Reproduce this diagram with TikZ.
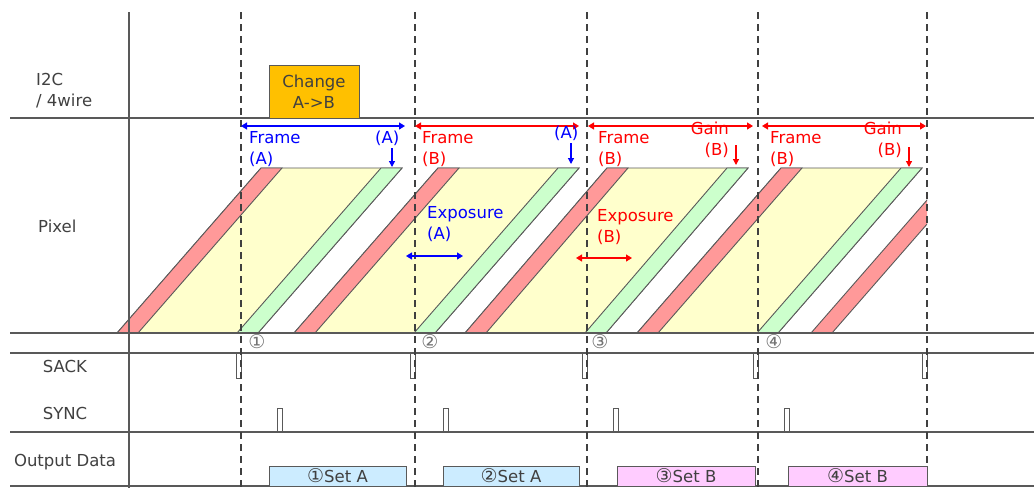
\documentclass[tikz,border=0pt]{standalone}
\usepackage{fontspec}
\setmainfont{DejaVu Sans}
\usepackage{tikz}
\usetikzlibrary{arrows.meta, positioning}
\definecolor{tdgray}{HTML}{595959}
\definecolor{tdtext}{HTML}{404040}
\definecolor{expyel}{HTML}{FFFFCC}
\definecolor{rstred}{HTML}{FF9999}
\definecolor{rdgrn}{HTML}{CCFFCC}
\definecolor{chgorg}{HTML}{FFC000}
\definecolor{setblue}{HTML}{CCECFF}
\definecolor{setpink}{HTML}{FFCCFF}
\definecolor{txblue}{HTML}{0000FF}
\definecolor{txred}{HTML}{FF0000}
\newcommand{\cdig}[1]{{\fontsize{19}{19}\selectfont #1}}
\tikzset{
  rowlbl/.style={font=\fontsize{16.5}{21}\selectfont,text=tdtext,inner sep=0pt,align=left},
  dimtxt/.style={font=\fontsize{16.5}{21}\selectfont,inner sep=0pt,align=left},
  gridline/.style={draw=tdgray,line width=1.3pt},
  vsyncline/.style={draw=black!75,line width=1.6pt,dash pattern=on 7pt off 5pt},
  expband/.style={fill=expyel,draw=tdgray,line width=0.9pt},
  rstband/.style={fill=rstred,draw=tdgray,line width=0.9pt},
  rdband/.style={fill=rdgrn,draw=tdgray,line width=0.9pt},
  chgbox/.style={fill=chgorg,draw=tdgray,line width=1pt,minimum width=90pt,minimum height=53pt,
    inner sep=0pt,align=center,font=\fontsize{16.5}{21}\selectfont,text=tdtext},
  setbox/.style={draw=tdgray,line width=1pt,minimum height=20pt,inner sep=0pt,
    font=\fontsize{16.5}{20}\selectfont,text=tdtext},
  cnum/.style={font=\fontsize{19}{19}\selectfont,text=black!55,inner sep=0pt},
  pulseline/.style={draw=tdgray,line width=0.9pt},
  dimarr/.style={<->,>={Triangle[length=6pt,width=7pt]},line width=1.2pt},
  downarr/.style={->,>={Triangle[length=6pt,width=6pt]},line width=1.2pt},
}

\begin{document}
\begin{tikzpicture}[x=1pt,y=-1pt]
  \useasboundingbox (0,0) rectangle (1034,488);
  % readout bands
  \foreach \b/\t in {117/261,294/438,465/607,637/781}{
    \filldraw[expband] (\b,333) -- (\t,168) -- ({\t+141},168) -- ({\b+141},333) -- cycle;
    \filldraw[rstband] (\b,333) -- (\t,168) -- ({\t+21},168) -- ({\b+21},333) -- cycle;
    \filldraw[rdband] ({\b+120},333) -- ({\t+120},168) -- ({\t+141},168) -- ({\b+141},333) -- cycle;
  }
  \begin{scope}
    \clip (0,0) rectangle (927,488);
    \filldraw[rstband] (811,333) -- (955,168) -- (976,168) -- (832,333) -- cycle;
  \end{scope}
  % grid
  \foreach \y in {118,333,353,432,486}
    \draw[gridline] (10,\y) -- (1034,\y);
  \draw[gridline] (129,12) -- (129,488);
  \foreach \x in {241,415,587,758,927}{
    \draw[pulseline] ({\x-5},353) -- ({\x-5},378) -- (\x,378) -- (\x,353);
    \draw[vsyncline] (\x,12) -- (\x,488);
  }
  \foreach \x in {277,443,613,784}
    \draw[pulseline] (\x,432) -- (\x,408) -- ({\x+5},408) -- ({\x+5},432);
  % row labels
  \node[rowlbl,anchor=north west] (lI2C) at (36,73) {I2C\\/ 4wire};
  \node[rowlbl,anchor=west] (lPix) at (38,226) {Pixel};
  \node[rowlbl] (lSack) at (65,366) {SACK};
  \node[rowlbl] (lSync) at (65,413) {SYNC};
  \node[rowlbl] (lOut) at (65,462) {Output Data};
  \node[chgbox] (nChg) at (314,91.5) {Change\\A->B};
  % frame periods
  \coordinate (fl1) at (241,126);
  \coordinate (fr1) at (405,126);
  \draw[dimarr,txblue] (fl1) -- (fr1);
  \foreach \i/\a/\c in {2/415/579,3/588/753,4/762/926}{
    \coordinate (fl\i) at (\a,126);
    \coordinate (fr\i) at (\c,126);
    \draw[dimarr,txred] (fl\i) -- (fr\i);
  }
  \node[dimtxt,text=txblue,anchor=north west] (tFr1) at (249,131) {Frame\\(A)};
  \node[dimtxt,text=txred,anchor=north west] (tFr2) at (422,131) {Frame\\(B)};
  \node[dimtxt,text=txred,anchor=north west] (tFr3) at (598,131) {Frame\\(B)};
  \node[dimtxt,text=txred,anchor=north west] (tFr4) at (770,131) {Frame\\(B)};
  \node[dimtxt,text=txblue,anchor=north west] (tA1) at (375,131) {(A)};
  \node[dimtxt,text=txblue,anchor=north west] (tA2) at (554,126) {(A)};
  \node[dimtxt,text=txred,anchor=north east,align=right] (tG3) at (729,122) {Gain\\(B)};
  \node[dimtxt,text=txred,anchor=north east,align=right] (tG4) at (902,122) {Gain\\(B)};
  \coordinate (ga1) at (392,148);
  \coordinate (gb1) at (392,167);
  \coordinate (ga2) at (571,143);
  \coordinate (gb2) at (571,164);
  \coordinate (ga3) at (736,145);
  \coordinate (gb3) at (736,165);
  \coordinate (ga4) at (909,147);
  \coordinate (gb4) at (909,167);
  \draw[downarr,txblue] (ga1) -- (gb1);
  \draw[downarr,txblue] (ga2) -- (gb2);
  \draw[downarr,txred] (ga3) -- (gb3);
  \draw[downarr,txred] (ga4) -- (gb4);
  % exposure
  \node[dimtxt,text=txblue,anchor=north west] (tExA) at (427,206) {Exposure\\(A)};
  \node[dimtxt,text=txred,anchor=north west] (tExB) at (597,209) {Exposure\\(B)};
  \coordinate (el1) at (406,256);
  \coordinate (er1) at (463,256);
  \coordinate (el2) at (576,258);
  \coordinate (er2) at (632,258);
  \draw[dimarr,txblue] (el1) -- (er1);
  \draw[dimarr,txred] (el2) -- (er2);
  % frame numbers and output data
  \node[cnum] (c1) at (257,342) {①};
  \node[cnum] (c2) at (430,342) {②};
  \node[cnum] (c3) at (600,342) {③};
  \node[cnum] (c4) at (774,342) {④};
  \node[setbox,fill=setblue,minimum width=137pt] (nSet1) at (337.5,476) {\cdig{①}Set A};
  \node[setbox,fill=setblue,minimum width=136pt] (nSet2) at (511,476) {\cdig{②}Set A};
  \node[setbox,fill=setpink,minimum width=138pt] (nSet3) at (686,476) {\cdig{③}Set B};
  \node[setbox,fill=setpink,minimum width=139pt] (nSet4) at (857.5,476) {\cdig{④}Set B};
\end{tikzpicture}
\end{document}
